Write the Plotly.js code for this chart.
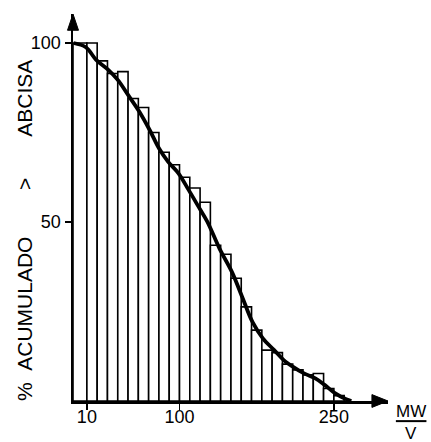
<!DOCTYPE html>
<html>
<head>
<meta charset="utf-8">
<script src="https://cdn.plot.ly/plotly-3.0.1.min.js"></script>
<style>
  html, body { margin: 0; padding: 0; background: #fff; }
  #chart { width: 431px; height: 442px; }
</style>
</head>
<body>
<div id="chart"></div>
<script>
// ---- data ----
// histogram bins of MW/V, width 10, start of each bin
const binStart = [0, 10, 20, 30, 40, 50, 60, 70, 80, 90, 100, 110, 120, 130, 140, 150, 160, 170, 180, 190, 200, 210, 220, 230, 240, 250];
// cumulative % greater than abscissa for each bin
const binPercent = [100, 100, 95, 91.5, 92, 84.5, 82, 75, 69.5, 66, 62.5, 59.5, 55.5, 43.5, 41, 34.3, 26.3, 19.8, 14.2, 13.5, 10.3, 8.7, 7.3, 7.7, 3.5, 1.5];
// smoothed curve drawn through the histogram
const curveX = [-3, 9, 19, 30, 40, 50, 61, 71, 80, 89, 99, 109, 118, 127, 139, 151, 161, 171, 181, 192, 201, 210, 221, 232, 241, 251, 262, 267];
const curveY = [100, 98.8, 95.3, 92.7, 89.7, 85.5, 80.8, 75.7, 70.6, 66.8, 63.6, 58.9, 54.5, 50.1, 42.5, 36, 29, 22, 17.5, 14.2, 11.5, 9.6, 7.7, 6.3, 4.5, 2.2, 0.5, 0];
// axis ticks
const xTickVals = [10, 100, 250];
const xTickText = ['10', '100', '250'];
const yTickVals = [50, 100];
const yTickText = ['50', '100'];
const yTitle = '%\u00a0\u00a0ACUMULADO\u00a0\u00a0\u00a0\u00a0\u00a0\u00a0\u00a0\u00a0>\u00a0\u00a0\u00a0\u00a0\u00a0\u00a0\u00a0ABCISA';
const xTitleTop = 'MW';
const xTitleBottom = 'V';

// ---- layout constants ----
const binWidth = 10;
const xRange = [-3.5, 302.6];
const yRange = [0, 108.1];
const FONT = 'Liberation Sans, Arial, sans-serif';

// bars: first bar reaches back to the axis line
const barCenters = binStart.map((s, i) => i === 0 ? (xRange[0] + s + binWidth) / 2 : s + binWidth / 2);
const barWidths = binStart.map((s, i) => i === 0 ? (s + binWidth - xRange[0]) : binWidth);

const traces = [
  {
    type: 'bar',
    x: barCenters,
    y: binPercent,
    width: barWidths,
    marker: { color: '#ffffff', line: { color: '#000000', width: 1.6 } },
    hoverinfo: 'skip'
  },
  {
    type: 'scatter',
    mode: 'lines',
    x: curveX,
    y: curveY,
    line: { color: '#000000', width: 3.8, shape: 'spline', smoothing: 1 },
    hoverinfo: 'skip'
  }
];

const layout = {
  width: 431,
  height: 442,
  margin: { l: 73, r: 43, t: 14, b: 41 },
  paper_bgcolor: '#ffffff',
  plot_bgcolor: '#ffffff',
  showlegend: false,
  bargap: 0,
  font: { family: FONT, color: '#000000', size: 18 },
  xaxis: {
    range: xRange,
    showgrid: false,
    zeroline: false,
    showline: true,
    linecolor: '#000000',
    linewidth: 2.5,
    ticks: 'outside',
    ticklen: 6,
    tickwidth: 1.5,
    tickcolor: '#000000',
    tickvals: xTickVals,
    ticktext: xTickText,
    ticklabelstandoff: -8,
    tickfont: { family: FONT, size: 18, color: '#000000' },
    fixedrange: true
  },
  yaxis: {
    range: yRange,
    showgrid: false,
    zeroline: false,
    showline: true,
    linecolor: '#000000',
    linewidth: 2.5,
    ticks: 'outside',
    ticklen: 6,
    tickwidth: 1.5,
    tickcolor: '#000000',
    tickvals: yTickVals,
    ticktext: yTickText,
    tickfont: { family: FONT, size: 18, color: '#000000' },
    fixedrange: true
  },
  shapes: [
    // arrow head on x axis
    { type: 'path', xref: 'paper', yref: 'paper',
      path: 'M 1 0 L 0.949 0.0165 L 0.949 -0.0165 Z',
      fillcolor: '#000000', line: { color: '#000000', width: 1 } },
    // arrow head on y axis
    { type: 'path', xref: 'paper', yref: 'paper',
      path: 'M 0 1 L 0.0175 0.958 L -0.0175 0.958 Z',
      fillcolor: '#000000', line: { color: '#000000', width: 1 } },
    // fraction bar of MW / V
    { type: 'line', xref: 'paper', yref: 'paper',
      x0: 1.025, x1: 1.122, y0: -0.052, y1: -0.052,
      line: { color: '#000000', width: 2 } }
  ],
  annotations: [
    { text: yTitle, xref: 'paper', yref: 'paper', x: 0, y: 0.439,
      xshift: -49, textangle: -90, showarrow: false,
      xanchor: 'center', yanchor: 'middle',
      font: { family: FONT, size: 21, color: '#000000' } },
    { text: xTitleTop, xref: 'paper', yref: 'paper', x: 1.073, y: -0.026,
      showarrow: false, xanchor: 'center', yanchor: 'middle',
      font: { family: FONT, size: 17, color: '#000000' } },
    { text: xTitleBottom, xref: 'paper', yref: 'paper', x: 1.073, y: -0.083,
      showarrow: false, xanchor: 'center', yanchor: 'middle',
      font: { family: FONT, size: 17, color: '#000000' } }
  ]
};

Plotly.newPlot('chart', traces, layout, { displayModeBar: false, staticPlot: true });
</script>
</body>
</html>
